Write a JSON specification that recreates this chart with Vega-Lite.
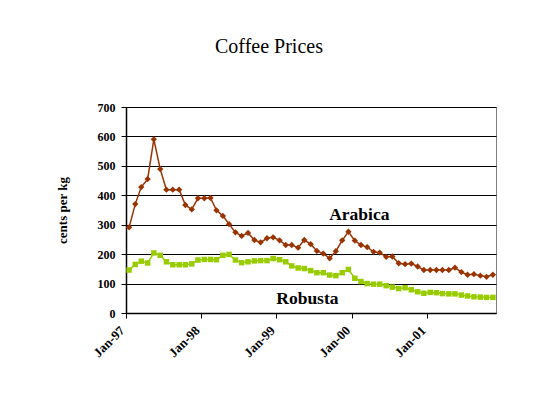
{
  "$schema": "https://vega.github.io/schema/vega-lite/v6.json",
  "width": 370,
  "height": 206,
  "autosize": {"type": "none"},
  "padding": {"left": 126, "top": 107, "right": 39, "bottom": 91},
  "background": "white",
  "title": {"text": "Coffee Prices", "font": "Liberation Serif", "fontSize": 20, "fontWeight": "normal", "color": "black", "anchor": "middle", "dx": -42, "offset": 44},
  "config": {
    "view": {"stroke": "#808080", "strokeWidth": 1},
    "axis": {"labelFont": "Liberation Serif", "titleFont": "Liberation Serif", "labelFontWeight": "bold", "titleFontWeight": "bold", "labelColor": "black", "titleColor": "black", "domainColor": "black", "tickColor": "black", "labelFontSize": 12, "titleFontSize": 13, "domainWidth": 1.5, "labelOverlap": false}
  },
  "data": {"values": [
    {"date": "1997-01-16", "arabica": 291, "robusta": 146},
    {"date": "1997-02-15", "arabica": 370, "robusta": 165},
    {"date": "1997-03-16", "arabica": 428, "robusta": 176},
    {"date": "1997-04-16", "arabica": 455, "robusta": 170},
    {"date": "1997-05-16", "arabica": 590, "robusta": 204},
    {"date": "1997-06-16", "arabica": 489, "robusta": 196},
    {"date": "1997-07-16", "arabica": 419, "robusta": 174},
    {"date": "1997-08-16", "arabica": 419, "robusta": 164},
    {"date": "1997-09-16", "arabica": 419, "robusta": 164},
    {"date": "1997-10-16", "arabica": 367, "robusta": 164},
    {"date": "1997-11-16", "arabica": 352, "robusta": 167},
    {"date": "1997-12-16", "arabica": 390, "robusta": 180},
    {"date": "1998-01-16", "arabica": 390, "robusta": 182},
    {"date": "1998-02-15", "arabica": 391, "robusta": 182},
    {"date": "1998-03-16", "arabica": 349, "robusta": 181},
    {"date": "1998-04-16", "arabica": 330, "robusta": 196},
    {"date": "1998-05-16", "arabica": 302, "robusta": 199},
    {"date": "1998-06-16", "arabica": 274, "robusta": 180},
    {"date": "1998-07-16", "arabica": 262, "robusta": 171},
    {"date": "1998-08-16", "arabica": 272, "robusta": 174},
    {"date": "1998-09-16", "arabica": 248, "robusta": 177},
    {"date": "1998-10-16", "arabica": 240, "robusta": 178},
    {"date": "1998-11-16", "arabica": 254, "robusta": 178},
    {"date": "1998-12-16", "arabica": 257, "robusta": 185},
    {"date": "1999-01-16", "arabica": 247, "robusta": 181},
    {"date": "1999-02-15", "arabica": 231, "robusta": 174},
    {"date": "1999-03-16", "arabica": 231, "robusta": 160},
    {"date": "1999-04-16", "arabica": 222, "robusta": 153},
    {"date": "1999-05-16", "arabica": 248, "robusta": 151},
    {"date": "1999-06-16", "arabica": 234, "robusta": 144},
    {"date": "1999-07-16", "arabica": 211, "robusta": 137},
    {"date": "1999-08-16", "arabica": 202, "robusta": 137},
    {"date": "1999-09-16", "arabica": 186, "robusta": 129},
    {"date": "1999-10-16", "arabica": 210, "robusta": 127},
    {"date": "1999-11-16", "arabica": 247, "robusta": 137},
    {"date": "1999-12-16", "arabica": 276, "robusta": 148},
    {"date": "2000-01-16", "arabica": 246, "robusta": 118},
    {"date": "2000-02-15", "arabica": 231, "robusta": 107},
    {"date": "2000-03-16", "arabica": 224, "robusta": 100},
    {"date": "2000-04-16", "arabica": 208, "robusta": 98},
    {"date": "2000-05-16", "arabica": 205, "robusta": 98},
    {"date": "2000-06-16", "arabica": 191, "robusta": 93},
    {"date": "2000-07-16", "arabica": 192, "robusta": 88},
    {"date": "2000-08-16", "arabica": 169, "robusta": 83},
    {"date": "2000-09-16", "arabica": 166, "robusta": 86},
    {"date": "2000-10-16", "arabica": 168, "robusta": 79},
    {"date": "2000-11-16", "arabica": 158, "robusta": 72},
    {"date": "2000-12-16", "arabica": 146, "robusta": 67},
    {"date": "2001-01-16", "arabica": 146, "robusta": 70},
    {"date": "2001-02-15", "arabica": 146, "robusta": 69},
    {"date": "2001-03-16", "arabica": 146, "robusta": 66},
    {"date": "2001-04-16", "arabica": 146, "robusta": 65},
    {"date": "2001-05-16", "arabica": 154, "robusta": 65},
    {"date": "2001-06-16", "arabica": 139, "robusta": 61},
    {"date": "2001-07-16", "arabica": 130, "robusta": 58},
    {"date": "2001-08-16", "arabica": 132, "robusta": 55},
    {"date": "2001-09-16", "arabica": 127, "robusta": 54},
    {"date": "2001-10-16", "arabica": 123, "robusta": 53},
    {"date": "2001-11-16", "arabica": 130, "robusta": 53}
  ]},
  "encoding": {
    "x": {
      "field": "date", "type": "temporal",
      "scale": {"type": "utc", "domain": [{"year": 1997, "month": 1, "date": 1, "utc": true}, {"year": 2001, "month": 12, "date": 1, "utc": true}]},
      "axis": {
        "title": null, "grid": false, "format": "%b-%y", "labelAngle": -45, "labelAlign": "right", "labelBaseline": "middle", "labelOffset": -4, "labelFontSize": 13, "tickSize": 5, "labelPadding": 10,
        "values": [
          {"year": 1997, "month": 1, "date": 1, "utc": true},
          {"year": 1998, "month": 1, "date": 1, "utc": true},
          {"year": 1999, "month": 1, "date": 1, "utc": true},
          {"year": 2000, "month": 1, "date": 1, "utc": true},
          {"year": 2001, "month": 1, "date": 1, "utc": true}
        ]
      }
    },
    "y": {"field": "price", "type": "quantitative", "scale": {"domain": [0, 700]},
      "axis": {"title": "cents per kg", "values": [0, 100, 200, 300, 400, 500, 600, 700], "grid": true, "gridColor": "black", "gridOpacity": 1, "tickSize": 5, "labelPadding": 6, "titlePadding": 28}}
  },
  "layer": [
    {
      "transform": [{"fold": ["arabica", "robusta"], "as": ["series", "price"]}],
      "mark": {"type": "line", "strokeWidth": 1.5},
      "encoding": {"color": {"field": "series", "type": "nominal", "scale": {"domain": ["arabica", "robusta"], "range": ["#993300", "#99CC00"]}, "legend": null}}
    },
    {
      "transform": [{"fold": ["arabica", "robusta"], "as": ["series", "price"]}],
      "mark": {"type": "point", "filled": true, "opacity": 1},
      "encoding": {
        "color": {"field": "series", "type": "nominal", "scale": {"domain": ["arabica", "robusta"], "range": ["#993300", "#99CC00"]}, "legend": null},
        "shape": {"field": "series", "type": "nominal", "scale": {"domain": ["arabica", "robusta"], "range": ["diamond", "square"]}, "legend": null},
        "size": {"field": "series", "type": "nominal", "scale": {"domain": ["arabica", "robusta"], "range": [40, 30]}, "legend": null}
      }
    },
    {
      "data": {"values": [
        {"date": "2000-02-07", "price": 333, "label": "Arabica"},
        {"date": "1999-05-31", "price": 48, "label": "Robusta"}
      ]},
      "mark": {"type": "text", "font": "Liberation Serif", "fontSize": 17.5, "fontWeight": "bold", "color": "black", "align": "center", "baseline": "middle"},
      "encoding": {"text": {"field": "label"}}
    }
  ]
}
